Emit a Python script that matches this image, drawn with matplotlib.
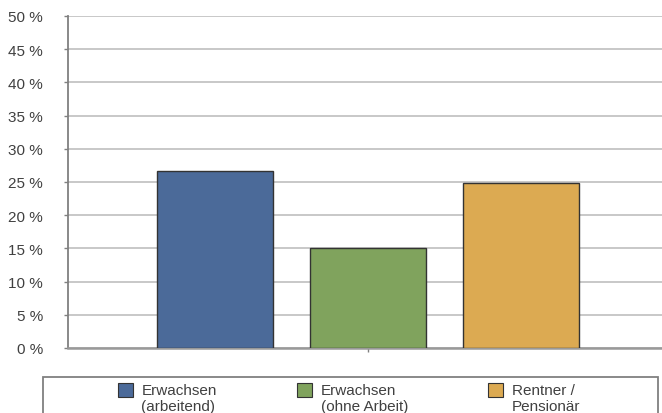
import matplotlib
matplotlib.use("Agg")
import matplotlib.pyplot as plt
from matplotlib.patches import Rectangle, Patch
from matplotlib.legend_handler import HandlerPatch

# Data
categories = ["Erwachsen\n(arbeitend)", "Erwachsen\n(ohne Arbeit)", "Rentner /\nPensionär"]
values = [26.6, 15.1, 24.8]
colors = ["#4b6a99", "#80a35d", "#dcaa52"]
y_ticks = [0, 5, 10, 15, 20, 25, 30, 35, 40, 45, 50]
y_tick_labels = ["0 %", "5 %", "10 %", "15 %", "20 %", "25 %", "30 %", "35 %", "40 %", "45 %", "50 %"]

plt.rcParams["font.family"] = ["Liberation Sans", "DejaVu Sans"]
FS = 11
TXT = "#404040"

W, H = 662, 414
fig = plt.figure(figsize=(W / 100, H / 100), dpi=100)
fig.patch.set_facecolor("white")

# plot area (runs slightly past the right edge of the canvas)
ax = fig.add_axes([68 / W, (H - 349) / H, 600 / W, (349 - 17) / H])

x = list(range(len(values)))
ax.bar(x, values, width=0.758, color=colors, edgecolor="#333333",
       linewidth=1.0, zorder=3)

ax.set_xlim(-0.963, 2.959)
ax.set_ylim(0, 50)
ax.set_yticks(y_ticks)
ax.set_yticklabels(y_tick_labels, fontsize=FS, color=TXT)
ax.yaxis.grid(True, color="#c4c4c4", linewidth=1.3, zorder=0)
ax.set_axisbelow(True)

ax.set_xticks([1])
ax.set_xticklabels([""])
ax.tick_params(axis="x", length=3, width=1, color="#808080", direction="out")
ax.tick_params(axis="y", length=3, width=1, color="#808080", direction="out", pad=15)

for s in ["top", "right"]:
    ax.spines[s].set_visible(False)
ax.spines["left"].set_color("#808080")
ax.spines["left"].set_linewidth(1.3)
ax.spines["bottom"].set_color("#999999")
ax.spines["bottom"].set_linewidth(1.8)

# legend frame
fig.patches.append(Rectangle((43 / W, -0.05), (658 - 43) / W, (H - 378) / H + 0.05,
                             transform=fig.transFigure, fill=False,
                             edgecolor="#808080", linewidth=1.3))


def top_square(legend, orig_handle, xdescent, ydescent, width, height, fontsize):
    # square aligned with the first line of a two-line label
    return Rectangle((-xdescent, -ydescent + 0.58 * fontsize), width, height)


handles = [Patch(facecolor=c, edgecolor="#333333", linewidth=0.8) for c in colors]
leg = fig.legend(handles, categories, ncol=3, loc="upper center",
                 bbox_to_anchor=(349 / W, (H - 375) / H), frameon=False,
                 fontsize=FS, labelcolor=TXT, handlelength=1.0, handleheight=1.0,
                 handletextpad=0.55, columnspacing=5.25, borderpad=0.1,
                 handler_map={Patch: HandlerPatch(patch_func=top_square)})

fig.savefig("out.png", dpi=100)
